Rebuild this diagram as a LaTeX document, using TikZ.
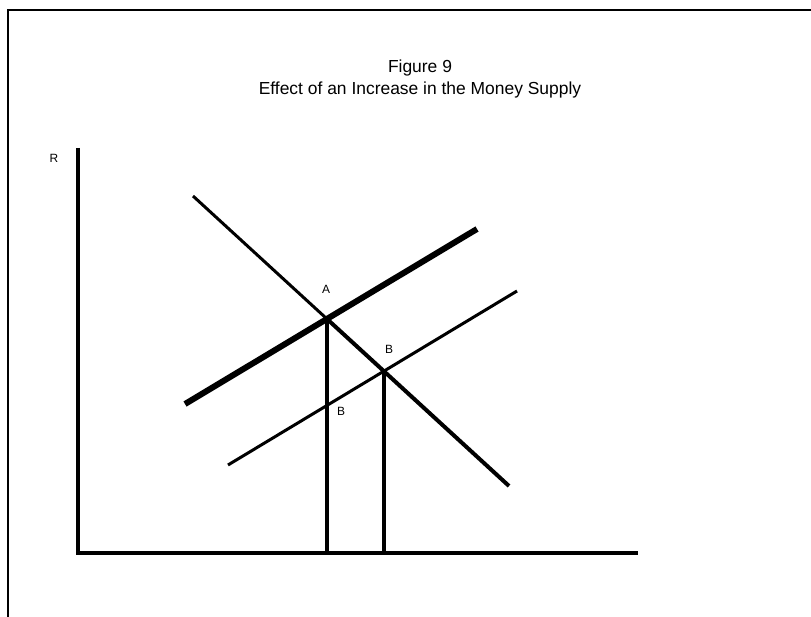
\documentclass[tikz,border=0pt]{standalone}
\usepackage{fontspec}
\setmainfont{Liberation Sans}
\begin{document}
\begin{tikzpicture}[x=1bp,y=-1bp,
  frame/.style={line width=2bp},
  axis/.style={line width=4bp},
  thickline/.style={line width=6bp},
  thinline/.style={line width=3bp},
  dropline/.style={line width=4bp},
  lbl/.style={font=\fontsize{12}{14}\selectfont, inner sep=0pt},
  ttl/.style={font=\fontsize{17.5}{23}\selectfont, align=center, inner sep=0pt}]
\useasboundingbox (0,0) rectangle (811,617);
% frame
\coordinate (f1) at (8,617);
\coordinate (f2) at (8,10);
\coordinate (f3) at (811,10);
\draw[frame] (f1) -- (f2) -- (f3);
% title
\node[ttl] (title) at (420,79) {Figure 9\\Effect of an Increase in the Money Supply};
% axes
\coordinate (ytop) at (78,148);
\coordinate (origin) at (78,553);
\coordinate (xend) at (638,553);
\draw[axis] (ytop) -- (origin) -- (xend);
\node[lbl] (R) at (54,158) {R};
% curves
\coordinate (is1) at (193,196);
\coordinate (is2) at (509,486);
\coordinate (lm1a) at (185,404);
\coordinate (lm1b) at (477,229);
\coordinate (lm2a) at (228,465);
\coordinate (lm2b) at (517,291);
\draw[thickline] (lm1a) -- (lm1b);
\draw[thinline] (lm2a) -- (lm2b);
\coordinate (A) at (intersection of is1--is2 and lm1a--lm1b);
\coordinate (B) at (intersection of is1--is2 and lm2a--lm2b);
\draw[thinline] (is1) -- (A);
\draw[dropline] (A) -- (is2);
\coordinate (Abot) at (A |- origin);
\coordinate (Bbot) at (B |- origin);
\draw[dropline] (A) -- (Abot);
\draw[dropline] (B) -- (Bbot);
\node[lbl] (labA) at (326,289) {A};
\node[lbl] (labB) at (389,349) {B};
\node[lbl] (labB2) at (341,411) {B};
\end{tikzpicture}
\end{document}
